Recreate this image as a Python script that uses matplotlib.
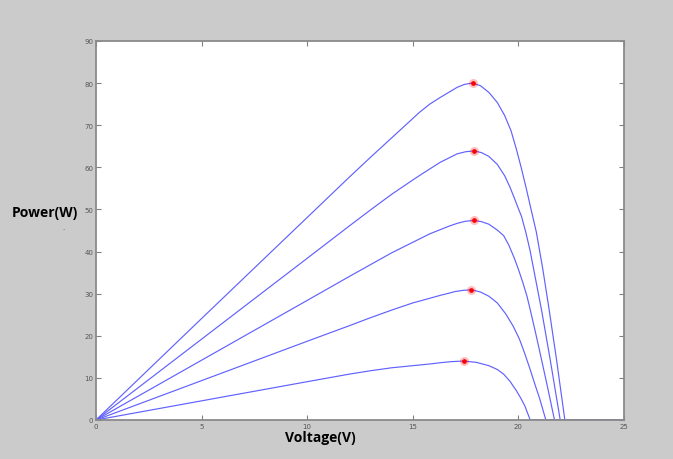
import matplotlib
matplotlib.use("Agg")
import matplotlib.pyplot as plt

# P-V curves (voltage in V, power in W)
v1 = [0, 5, 10, 12, 13, 14, 15, 15.3, 15.8, 16.3, 16.7, 17.1, 17.45, 17.8, 18.2, 18.6, 19.0,
      19.35, 19.65, 19.9, 20.15, 20.4, 20.6, 20.85, 21.15, 21.45, 21.8, 22.2, 25]
p1 = [0, 24.1, 48.1, 57.7, 62.4, 67.0, 71.6, 73.0, 75.0, 76.6, 77.8, 79.0, 79.7, 80.0, 79.4, 77.8, 75.4,
      72.3, 68.7, 64.4, 59.6, 54.4, 50.0, 44.6, 36.0, 26.4, 14.5, 0, 0]

v2 = [0, 5, 10, 12, 13, 14, 15, 15.3, 15.8, 16.3, 16.7, 17.1, 17.5, 17.9, 18.25, 18.6, 19.0,
      19.35, 19.6, 19.8, 20.0, 20.15, 20.35, 20.55, 20.85, 21.1, 21.5, 21.98, 25]
p2 = [0, 19.2, 38.4, 46.1, 49.9, 53.6, 57.0, 58.0, 59.6, 61.2, 62.2, 63.2, 63.7, 63.9, 63.5, 62.6, 60.7,
      58.0, 55.3, 52.8, 50.2, 48.3, 44.6, 40.3, 32.5, 26.0, 14.5, 0, 0]

v3 = [0, 5, 10, 12, 13, 14, 15, 15.8, 16.3, 16.7, 17.1, 17.5, 17.9, 18.25, 18.6, 19.0, 19.3,
      19.55, 19.8, 20.0, 20.2, 20.4, 20.55, 20.8, 21.0, 21.35, 21.71, 25]
p3 = [0, 14.2, 28.4, 34.1, 36.9, 39.7, 42.2, 44.2, 45.2, 46.0, 46.7, 47.2, 47.4, 47.1, 46.5, 45.1, 43.8,
      41.5, 38.5, 35.8, 32.8, 29.5, 26.4, 21.0, 16.5, 8.5, 0, 0]

v4 = [0, 5, 10, 12, 13, 14, 15, 15.8, 16.3, 16.7, 17.0, 17.4, 17.8, 18.2, 18.6, 19.0, 19.4,
      19.75, 20.05, 20.3, 20.55, 20.8, 21.0, 21.3, 25]
p4 = [0, 9.35, 18.7, 22.4, 24.3, 26.1, 27.8, 28.9, 29.6, 30.1, 30.5, 30.8, 30.9, 30.4, 29.4, 27.8, 25.2,
      22.3, 19.2, 15.8, 12.1, 8.2, 5.2, 0, 0]

v5 = [0, 5, 10, 12, 13, 14, 15, 15.8, 16.3, 16.8, 17.4, 18.0, 18.6, 19.0, 19.3, 19.6, 19.9,
      20.1, 20.3, 20.56, 25]
p5 = [0, 4.55, 9.1, 10.9, 11.7, 12.4, 12.9, 13.3, 13.6, 13.85, 14.0, 13.7, 12.9, 12.0, 10.9, 9.2, 7.0,
      5.3, 3.4, 0, 0]

# maximum power points
mpp_v = [17.83, 17.9, 17.88, 17.76, 17.41]
mpp_p = [80.0, 63.9, 47.4, 30.9, 14.0]

x_ticks = [0, 5, 10, 15, 20, 25]
y_ticks = [0, 10, 20, 30, 40, 50, 60, 70, 80, 90]

bg = "#cbcbcb"
fig = plt.figure(figsize=(6.73, 4.6), dpi=100, facecolor=bg)
ax = fig.add_axes([96 / 673, 39 / 460, 528 / 673, 379 / 460])

line_col = (0.38, 0.38, 1.0)
for v, p in [(v1, p1), (v2, p2), (v3, p3), (v4, p4), (v5, p5)]:
    ax.plot(v, p, color=line_col, lw=0.85)

# red dots with a soft glow
ax.plot(mpp_v, mpp_p, "o", ms=6.5, color="red", alpha=0.25, mew=0, zorder=3)
ax.plot(mpp_v, mpp_p, "o", ms=3.4, color="red", mew=0, zorder=4)

ax.set_xlim(0, 25)
ax.set_ylim(0, 90)
ax.set_xticks(x_ticks)
ax.set_yticks(y_ticks)
ax.tick_params(direction="in", length=3.5, width=0.8, color="#808080",
               labelsize=5, labelcolor="#555555", top=True, right=True, pad=2)
for s in ax.spines.values():
    s.set_color("#8a8a8a")
    s.set_linewidth(1.3)

fig.text(320 / 673, 1 - 438 / 460, "Voltage(V)", fontsize=10, fontweight="bold",
         family="Open Sans", ha="center", va="center")
fig.text(12 / 673, 1 - 213 / 460, "Power(W)", fontsize=10, fontweight="bold",
         family="Open Sans", ha="left", va="center")
fig.text(63 / 673, 1 - 228 / 460, ".", fontsize=5, color="#555555", ha="center", va="center")

fig.savefig("out.png", dpi=100, facecolor=bg)
